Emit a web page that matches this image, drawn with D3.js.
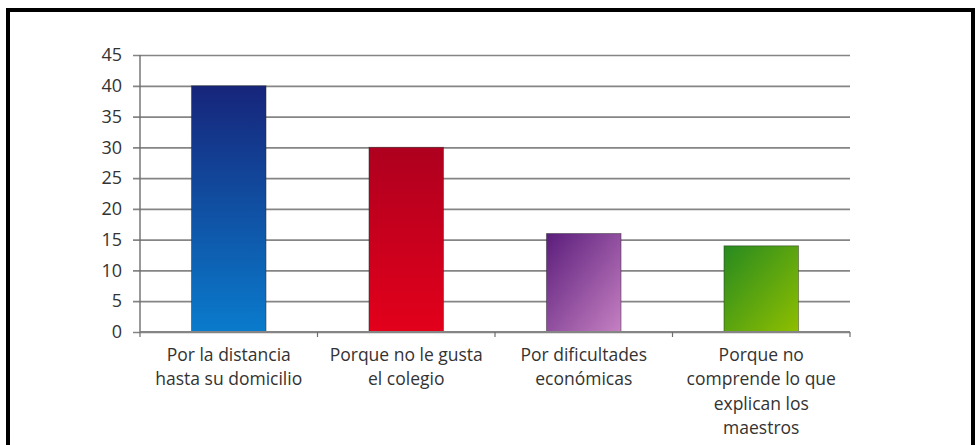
<!DOCTYPE html>
<html>
<head>
<meta charset="utf-8">
<script src="https://cdn.jsdelivr.net/npm/d3@7"></script>
<style>
  body { margin: 0; background: #fff; }
  text { font-family: "Open Sans", "DejaVu Sans", sans-serif; fill: #333; }
</style>
</head>
<body>
<script>
// data
var categories = [
  ["Por la distancia", "hasta su domicilio"],
  ["Porque no le gusta", "el colegio"],
  ["Por dificultades", "económicas"],
  ["Porque no", "comprende lo que", "explican los", "maestros"]
];
var values = [40, 30, 16, 14];
var yTicks = [0, 5, 10, 15, 20, 25, 30, 35, 40, 45];
var gradients = [
  ["#16257a", "#0a7bcc", "v"],
  ["#ae001f", "#e3001b", "v"],
  ["#5a1d7b", "#c681c2", "d"],
  ["#278a1f", "#8fbf00", "d"]
];

var W = 979, H = 445;
var margin = {top: 55, right: 129, bottom: 113, left: 140};
var width = W - margin.left - margin.right,
    height = H - margin.top - margin.bottom;

var svg = d3.select("body").append("svg")
    .attr("width", W)
    .attr("height", H);

// black frame
svg.append("path")
    .attr("d", "M8,445 V10 H973 V445")
    .attr("fill", "none")
    .attr("stroke", "#000")
    .attr("stroke-width", 4);

var defs = svg.append("defs");
gradients.forEach(function(g, i) {
  var lg = defs.append("linearGradient")
      .attr("id", "grad" + i)
      .attr("x1", 0).attr("y1", 0)
      .attr("x2", g[2] == "d" ? 1 : 0).attr("y2", 1);
  lg.append("stop").attr("offset", "0%").attr("stop-color", g[0]);
  lg.append("stop").attr("offset", "100%").attr("stop-color", g[1]);
});

var g = svg.append("g")
    .attr("transform", "translate(" + margin.left + "," + margin.top + ")");

var x = d3.scaleBand()
    .domain(d3.range(categories.length))
    .range([0, width])
    .paddingInner(0.58)
    .paddingOuter(0.29);

var y = d3.scaleLinear()
    .domain([0, 45])
    .range([height, 0]);

// gridlines + y axis
var yAxis = g.append("g")
    .attr("class", "y axis")
    .call(d3.axisLeft(y).tickValues(yTicks).tickSize(-width).tickPadding(18).tickSizeOuter(0));
yAxis.select(".domain").remove();
yAxis.selectAll(".tick line")
    .attr("x1", -7)
    .attr("stroke", "#858585")
    .attr("stroke-width", 1.7);
yAxis.selectAll(".tick text")
    .style("font-size", "18px")
    .attr("fill", "#333");

g.append("line")
    .attr("x1", 0).attr("x2", 0)
    .attr("y1", 0).attr("y2", height)
    .attr("stroke", "#6e6e6e")
    .attr("stroke-width", 1.4);

// bars
g.selectAll(".bar")
  .data(values)
  .enter().append("rect")
    .attr("class", "bar")
    .attr("x", function(d, i) { return x(i); })
    .attr("y", function(d) { return y(d); })
    .attr("width", x.bandwidth())
    .attr("height", function(d) { return height - y(d); })
    .attr("fill", function(d, i) { return "url(#grad" + i + ")"; })
    .attr("stroke", "rgba(40,40,40,0.45)")
    .attr("stroke-width", 1);

// x axis: baseline with ticks between categories
g.append("line")
    .attr("x1", 0).attr("x2", width)
    .attr("y1", height).attr("y2", height)
    .attr("stroke", "#858585")
    .attr("stroke-width", 1.8);

g.selectAll(".xtick")
  .data(d3.range(categories.length + 1))
  .enter().append("line")
    .attr("class", "xtick")
    .attr("x1", function(i) { return i * x.step(); })
    .attr("x2", function(i) { return i * x.step(); })
    .attr("y1", height)
    .attr("y2", height + 5)
    .attr("stroke", "#6e6e6e")
    .attr("stroke-width", 1.2);

var labels = g.selectAll(".xlabel")
  .data(categories)
  .enter().append("text")
    .attr("class", "xlabel")
    .attr("text-anchor", "middle")
    .style("font-size", "17.5px")
    .attr("transform", function(d, i) {
      return "translate(" + (x(i) + x.bandwidth() / 2) + "," + (height + 29) + ")";
    });

labels.selectAll("tspan")
  .data(function(d) { return d; })
  .enter().append("tspan")
    .attr("x", 0)
    .attr("y", function(d, j) { return j * 24.3; })
    .text(function(d) { return d; });
</script>
</body>
</html>
